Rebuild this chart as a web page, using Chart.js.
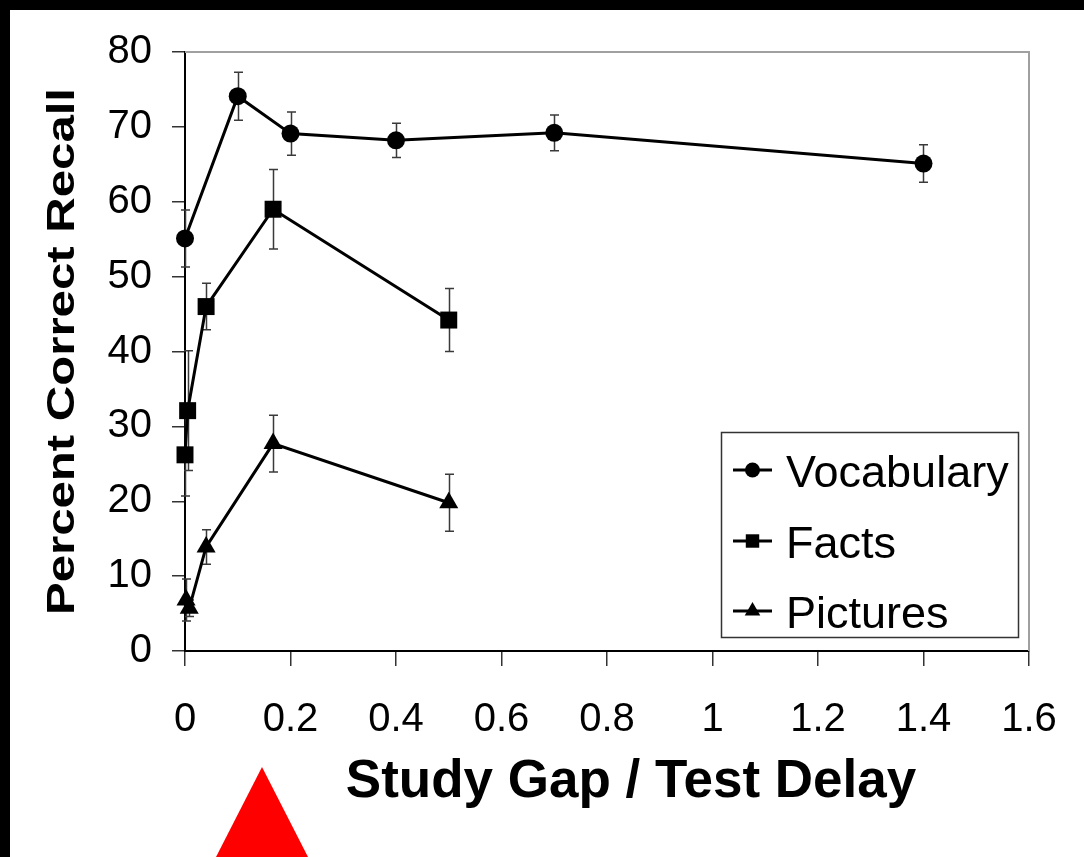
<!DOCTYPE html>
<html>
<head>
<meta charset="utf-8">
<title>Percent Correct Recall</title>
<script src="https://cdn.jsdelivr.net/npm/chart.js@4.4.1/dist/chart.umd.min.js"></script>
<style>
  html, body { margin: 0; padding: 0; background: #000; }
  #wrap { position: absolute; left: 10px; top: 10px; width: 1074px; height: 847px; background: #fff; }
  canvas { display: block; }
</style>
</head>
<body>
<div id="wrap"><canvas id="recall" width="1074" height="847"></canvas></div>
<script>
// Recall by study gap / test delay ratio
// ======================

var FONT = "'Liberation Sans', Arial, Helvetica, sans-serif";

var xTickLabels = ['0', '0.2', '0.4', '0.6', '0.8', '1', '1.2', '1.4', '1.6'];
var yTickLabels = ['0', '10', '20', '30', '40', '50', '60', '70', '80'];

var vocabularyGap    = [0, 0.1, 0.2, 0.4, 0.7, 1.4];
var vocabularyRecall = [55.1, 74.1, 69.1, 68.2, 69.2, 65.1];
var vocabularyError  = [3.8, 3.2, 2.9, 2.3, 2.4, 2.5];

var factsGap    = [0, 0.005, 0.04, 0.167, 0.5];
var factsRecall = [26.2, 32.1, 46.0, 59.0, 44.2];
var factsError  = [5.5, 8.0, 3.1, 5.3, 4.2];

var picturesGap    = [0.002, 0.008, 0.04, 0.167, 0.5];
var picturesRecall = [6.8, 5.7, 13.9, 27.7, 19.8];
var picturesError  = [2.8, 1.1, 2.3, 3.8, 3.8];

function points(xs, ys) {
    return xs.map(function (x, i) { return { x: x, y: ys[i] }; });
}

function series(label, xs, ys, errs, style, radius) {
    return {
        label: label
        , data: points(xs, ys)
        , errors: errs
        , showLine: true
        , clip: false
        , borderColor: '#000'
        , backgroundColor: '#000'
        , borderWidth: 3
        , pointStyle: style
        , pointRadius: radius
        , pointBorderWidth: 0
    };
}

// vertical error bars, drawn under the markers
var errorBars = {
    id: 'errorBars'
    , beforeDatasetsDraw: function (chart) {
        var ctx = chart.ctx, xs = chart.scales.x, ys = chart.scales.y;
        ctx.save();
        ctx.strokeStyle = '#3a3a3a';
        ctx.lineWidth = 1.5;
        chart.data.datasets.forEach(function (ds) {
            ds.data.forEach(function (p, i) {
                var e = ds.errors[i];
                var px = Math.round(xs.getPixelForValue(p.x)) + 0.5;
                var top = ys.getPixelForValue(p.y + e);
                var bot = ys.getPixelForValue(p.y - e);
                ctx.beginPath();
                ctx.moveTo(px, top); ctx.lineTo(px, bot);
                ctx.moveTo(px - 4.5, top); ctx.lineTo(px + 4.5, top);
                ctx.moveTo(px - 4.5, bot); ctx.lineTo(px + 4.5, bot);
                ctx.stroke();
            });
        });
        ctx.restore();
    }
};

// grey top and right edges of the plot
var plotFrame = {
    id: 'plotFrame'
    , beforeDatasetsDraw: function (chart) {
        var a = chart.chartArea, ctx = chart.ctx;
        ctx.save();
        ctx.strokeStyle = '#a0a0a0';
        ctx.lineWidth = 2;
        ctx.beginPath();
        ctx.moveTo(a.left, a.top);
        ctx.lineTo(a.right, a.top);
        ctx.lineTo(a.right, a.bottom);
        ctx.stroke();
        ctx.restore();
    }
};

var titlesAndLegend = {
    id: 'titlesAndLegend'
    , afterDraw: function (chart) {
        var ctx = chart.ctx;
        ctx.save();
        ctx.fillStyle = '#000';

        // x axis title
        ctx.font = 'bold 53px ' + FONT;
        ctx.textAlign = 'center';
        ctx.textBaseline = 'alphabetic';
        ctx.fillText('Study Gap / Test Delay', 621, 787);

        // y axis title, stretched along its length
        var yTitle = 'Percent Correct Recall';
        ctx.font = 'bold 38px ' + FONT;
        var w = ctx.measureText(yTitle).width;
        ctx.save();
        ctx.translate(64, 341.5);
        ctx.rotate(-Math.PI / 2);
        ctx.scale(527 / w, 1);
        ctx.fillText(yTitle, 0, 0);
        ctx.restore();

        // legend box
        ctx.fillStyle = '#fff';
        ctx.fillRect(711, 422, 297, 205);
        ctx.strokeStyle = '#333';
        ctx.lineWidth = 1.5;
        ctx.strokeRect(711.5, 422.5, 297, 205);

        var rows = [460, 531, 601];
        var sizes = [7.5, 9.5, 9];
        ctx.font = '45px ' + FONT;
        ctx.textAlign = 'left';
        chart.data.datasets.forEach(function (ds, i) {
            var y = rows[i];
            ctx.strokeStyle = '#000';
            ctx.fillStyle = '#000';
            ctx.lineWidth = 3;
            ctx.beginPath();
            ctx.moveTo(723, y);
            ctx.lineTo(762, y);
            ctx.stroke();
            Chart.helpers.drawPoint(ctx, {
                pointStyle: ds.pointStyle, radius: sizes[i], rotation: 0, borderWidth: 0
            }, 742.5, y);
            ctx.fillText(ds.label, 776, y + 17);
        });

        // red marker under the axis
        ctx.fillStyle = '#ff0000';
        ctx.beginPath();
        ctx.moveTo(252, 757);
        ctx.lineTo(298, 847);
        ctx.lineTo(206, 847);
        ctx.closePath();
        ctx.fill();

        ctx.restore();
    }
};

new Chart(document.getElementById('recall'), {
    type: 'scatter'
    , data: {
        datasets: [
            series('Vocabulary', vocabularyGap, vocabularyRecall, vocabularyError, 'circle', 9)
            , series('Facts', factsGap, factsRecall, factsError, 'rect', 12)
            , series('Pictures', picturesGap, picturesRecall, picturesError, 'triangle', 11)
        ]
    }
    , options: {
        responsive: false
        , animation: false
        , devicePixelRatio: 1
        , layout: { padding: { top: 42, right: 55, left: 0, bottom: 0 } }
        , plugins: { legend: { display: false }, tooltip: { enabled: false } }
        , scales: {
            x: {
                type: 'linear', min: 0, max: 1.6
                , ticks: {
                    stepSize: 0.2, autoSkip: false, maxRotation: 0, padding: 30, color: '#000'
                    , font: { family: FONT, size: 40 }
                    , callback: function (v, i) { return xTickLabels[i]; }
                }
                , grid: { drawOnChartArea: false, drawTicks: true, tickLength: 15, color: '#333', lineWidth: 1.5 }
                , border: { color: '#000', width: 2 }
                , afterFit: function (s) {
                    s.height = 206;
                    s.paddingLeft = s.paddingRight = 0;
                }
            }
            , y: {
                min: 0, max: 80
                , ticks: {
                    stepSize: 10, padding: 20, color: '#000'
                    , font: { family: FONT, size: 40 }
                    , callback: function (v, i) { return yTickLabels[i]; }
                }
                , grid: { drawOnChartArea: false, drawTicks: true, tickLength: 13, color: '#333', lineWidth: 1.5 }
                , border: { color: '#000', width: 2 }
                , afterFit: function (s) {
                    s.width = 175;
                    s.paddingTop = s.paddingBottom = 0;
                }
            }
        }
    }
    , plugins: [plotFrame, errorBars, titlesAndLegend]
});
</script>
</body>
</html>
